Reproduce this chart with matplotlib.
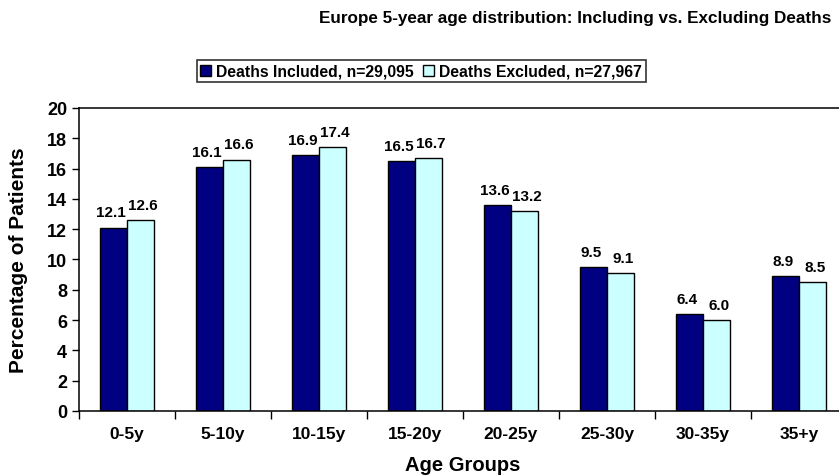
import numpy as np
import matplotlib
matplotlib.use("Agg")
import matplotlib.pyplot as plt
from matplotlib.ticker import FixedLocator, NullFormatter

# Data
age_groups = ["0-5y", "5-10y", "10-15y", "15-20y", "20-25y", "25-30y", "30-35y", "35+y"]
deaths_included = [12.1, 16.1, 16.9, 16.5, 13.6, 9.5, 6.4, 8.9]
deaths_excluded = [12.6, 16.6, 17.4, 16.7, 13.2, 9.1, 6.0, 8.5]
label_incl = "Deaths Included, n=29,095"
label_excl = "Deaths Excluded, n=27,967"

plt.rcParams['font.family'] = ['Liberation Sans', 'DejaVu Sans']
plt.rcParams['font.weight'] = 'bold'

fig = plt.figure(figsize=(8.39, 4.77), dpi=100)
# plot area runs past the right edge, as in the reference
ax = fig.add_axes([0.094, 0.1363, 0.9155, 0.6352])

x = np.arange(len(age_groups))
w = 0.285
b1 = ax.bar(x - w / 2, deaths_included, w, color='#000080', edgecolor='black', linewidth=1, label=label_incl)
b2 = ax.bar(x + w / 2, deaths_excluded, w, color='#CCFFFF', edgecolor='black', linewidth=1, label=label_excl)

# value labels, nudged apart a little like the original
for bars, vals, dx in ((b1, deaths_included, -1.5), (b2, deaths_excluded, 1.5)):
    for rect, v in zip(bars, vals):
        ax.annotate(f"{v:.1f}", (rect.get_x() + rect.get_width() / 2, rect.get_height()),
                    xytext=(dx, 6), textcoords='offset points', ha='center', va='bottom',
                    fontsize=11, fontweight='bold')

ax.set_xlim(-0.5, len(age_groups) - 0.5)
ax.set_ylim(0, 20)
ax.set_yticks(range(0, 21, 2))
ax.set_xticks(x)
ax.set_xticklabels(age_groups, fontsize=12.5, fontweight='bold')
ax.xaxis.set_minor_locator(FixedLocator(np.arange(-0.5, len(age_groups), 1)))
ax.xaxis.set_minor_formatter(NullFormatter())
ax.tick_params(axis='x', which='major', length=0, pad=11)
ax.tick_params(axis='x', which='minor', length=6, width=1, direction='out')
ax.tick_params(axis='y', length=5, width=1, direction='out', labelsize=13)
for lbl in ax.get_yticklabels():
    lbl.set_fontweight('bold')

for sp in ax.spines.values():
    sp.set_linewidth(1.1)

ax.set_ylabel("Percentage of Patients", fontsize=15, fontweight='bold')
ax.yaxis.set_label_coords(-0.079, 0.5)
ax.yaxis.label.set_va('center')
ax.set_xlabel("Age Groups", fontsize=14.5, fontweight='bold')
ax.xaxis.set_label_coords(0.5, -0.175)
ax.xaxis.label.set_va('center')

fig.text(0.686, 0.962, "Europe 5-year age distribution: Including vs. Excluding Deaths",
         ha='center', va='center', fontsize=12.3, fontweight='bold')

leg = fig.legend(loc='center', bbox_to_anchor=(0.502, 0.849), ncol=2, frameon=True,
                 fancybox=False, edgecolor='black', fontsize=11.3,
                 handlelength=0.7, handleheight=0.7, handletextpad=0.3,
                 columnspacing=0.6, borderpad=0.25, borderaxespad=0)
leg.get_frame().set_linewidth(1.2)
for t in leg.get_texts():
    t.set_fontweight('bold')

fig.savefig("out.png", dpi=100)
